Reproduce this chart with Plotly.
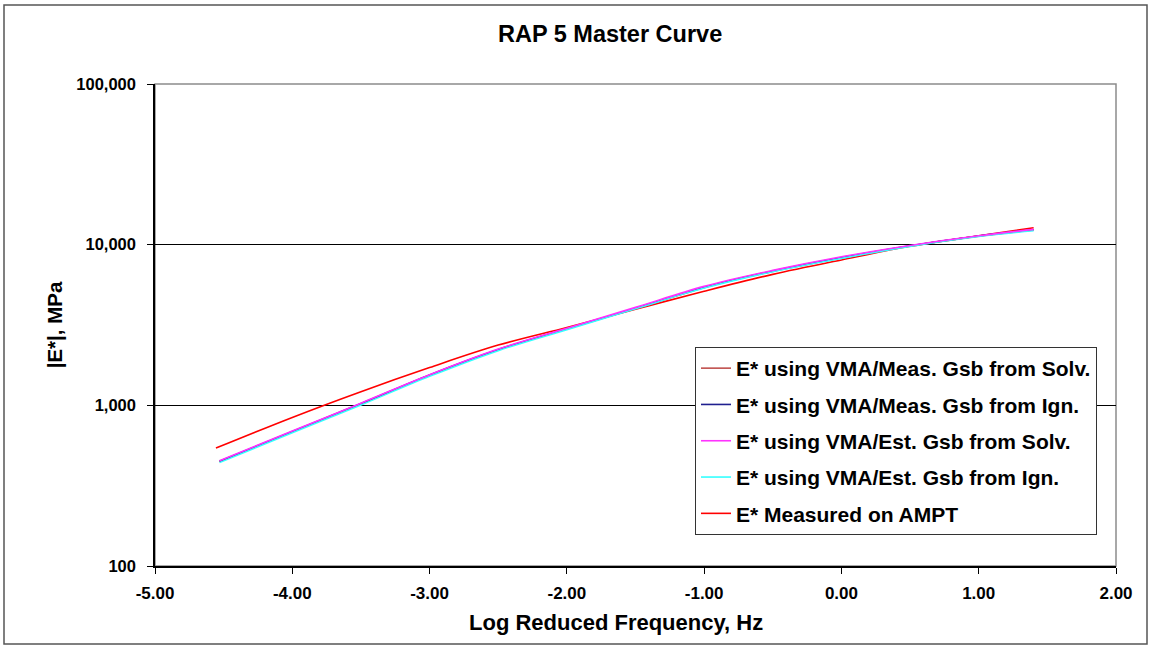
import plotly.graph_objects as go

# Log reduced frequency (Hz) positions
x_pred = [-4.53, -4.0, -3.5, -3.0, -2.5, -2.0, -1.5, -1.0, -0.5, 0.0, 0.5, 1.0, 1.4]
x_meas = [-4.556, -4.0, -3.5, -3.0, -2.5, -2.0, -1.5, -1.0, -0.5, 0.0, 0.5, 1.0, 1.4]

# |E*| values (MPa)
e_meas_solv = [447, 685, 1020, 1540, 2215, 2990, 4000, 5400, 6820, 8270, 9800, 11300, 12350]
e_meas_ign = [449, 688, 1025, 1545, 2225, 3000, 4020, 5430, 6860, 8320, 9850, 11330, 12380]
e_est_solv = [452, 692, 1032, 1550, 2240, 3020, 4070, 5500, 6920, 8410, 9890, 11350, 12450]
e_est_ign = [440, 675, 1005, 1515, 2190, 2960, 3990, 5370, 6790, 8220, 9760, 11250, 12200]
e_ampt = [542, 841, 1216, 1718, 2371, 3055, 3963, 5129, 6531, 8035, 9772, 11350, 12740]

names = [
    "E* using VMA/Meas. Gsb from Solv.",
    "E* using VMA/Meas. Gsb from Ign.",
    "E* using VMA/Est. Gsb from Solv.",
    "E* using VMA/Est. Gsb from Ign.",
    "E* Measured on AMPT",
]
colors = ["#C0504D", "#1F1F8F", "#FF33FF", "#33FFFF", "#FF0000"]
series = [e_meas_solv, e_meas_ign, e_est_solv, e_est_ign, e_ampt]
xs = [x_pred, x_pred, x_pred, x_pred, x_meas]

y_tickvals = [100, 1000, 10000, 100000]
y_ticktext = ["100", "1,000", "10,000", "100,000"]
x_tickvals = [-5, -4, -3, -2, -1, 0, 1, 2]
x_ticktext = ["-5.00", "-4.00", "-3.00", "-2.00", "-1.00", "0.00", "1.00", "2.00"]

FONT = "Liberation Sans, Arial, sans-serif"

fig = go.Figure()
order = [4, 0, 1, 3, 2]  # draw order so red stays visible
for i in order:
    fig.add_trace(go.Scatter(
        x=xs[i], y=series[i], mode="lines", name=names[i],
        line=dict(color=colors[i], width=1.6, shape="spline", smoothing=1.0),
        legendgroup="g%d" % i, legendrank=i + 1,
    ))

W, H = 1152, 649
L, R, T, B = 155, 1116, 84, 566

def px(xp):
    return (xp - L) / (R - L)

def py(yp):
    return (B - yp) / (B - T)

fig.update_layout(
    width=W, height=H,
    margin=dict(l=L, r=W - R, t=T, b=H - B),
    paper_bgcolor="white", plot_bgcolor="white",
    font=dict(family=FONT, color="black"),
    showlegend=True,
    legend=dict(
        x=px(695), y=py(347),
        xanchor="left", yanchor="top",
        bgcolor="white", bordercolor="#333333", borderwidth=1,
        font=dict(family=FONT, size=21, color="black", weight="bold"),
        tracegroupgap=6, itemwidth=30,
    ),
    xaxis=dict(
        range=[-5, 2], tickvals=x_tickvals, ticktext=x_ticktext,
        showgrid=False, zeroline=False,
        showline=True, linecolor="black", linewidth=1.5,
        ticks="outside", ticklen=6, tickcolor="black",
        ticklabelstandoff=5,
        tickfont=dict(family=FONT, size=17, weight="bold"),
    ),
    yaxis=dict(
        type="log", range=[2, 5], tickvals=y_tickvals, ticktext=y_ticktext,
        showgrid=True, gridcolor="black", gridwidth=1.2, zeroline=False,
        showline=True, linecolor="black", linewidth=1.5,
        ticks="outside", ticklen=6, tickcolor="black",
        ticklabelstandoff=8,
        tickfont=dict(family=FONT, size=16.5, weight="bold"),
        title=dict(text="<b>|E*|, MPa</b>",
                   font=dict(family=FONT, size=20.5), standoff=8),
    ),
    shapes=[
        dict(type="rect", xref="paper", yref="paper", x0=0, x1=1, y0=0, y1=1,
             line=dict(color="#8C8C8C", width=1.5), layer="below"),
        dict(type="rect", xref="paper", yref="paper",
             x0=px(4), x1=px(1147), y0=py(644), y1=py(5),
             line=dict(color="#555555", width=1.5)),
    ],
    annotations=[
        dict(text="<b>RAP 5 Master Curve</b>", xref="paper", yref="paper",
             x=px(610), y=py(34),
             xanchor="center", yanchor="middle", showarrow=False,
             font=dict(family=FONT, size=23.5, color="black")),
        dict(text="<b>Log Reduced Frequency, Hz</b>", xref="paper", yref="paper",
             x=px(616), y=py(622),
             xanchor="center", yanchor="middle", showarrow=False,
             font=dict(family=FONT, size=22, color="black")),
    ],
)

fig.write_html("out.html")
